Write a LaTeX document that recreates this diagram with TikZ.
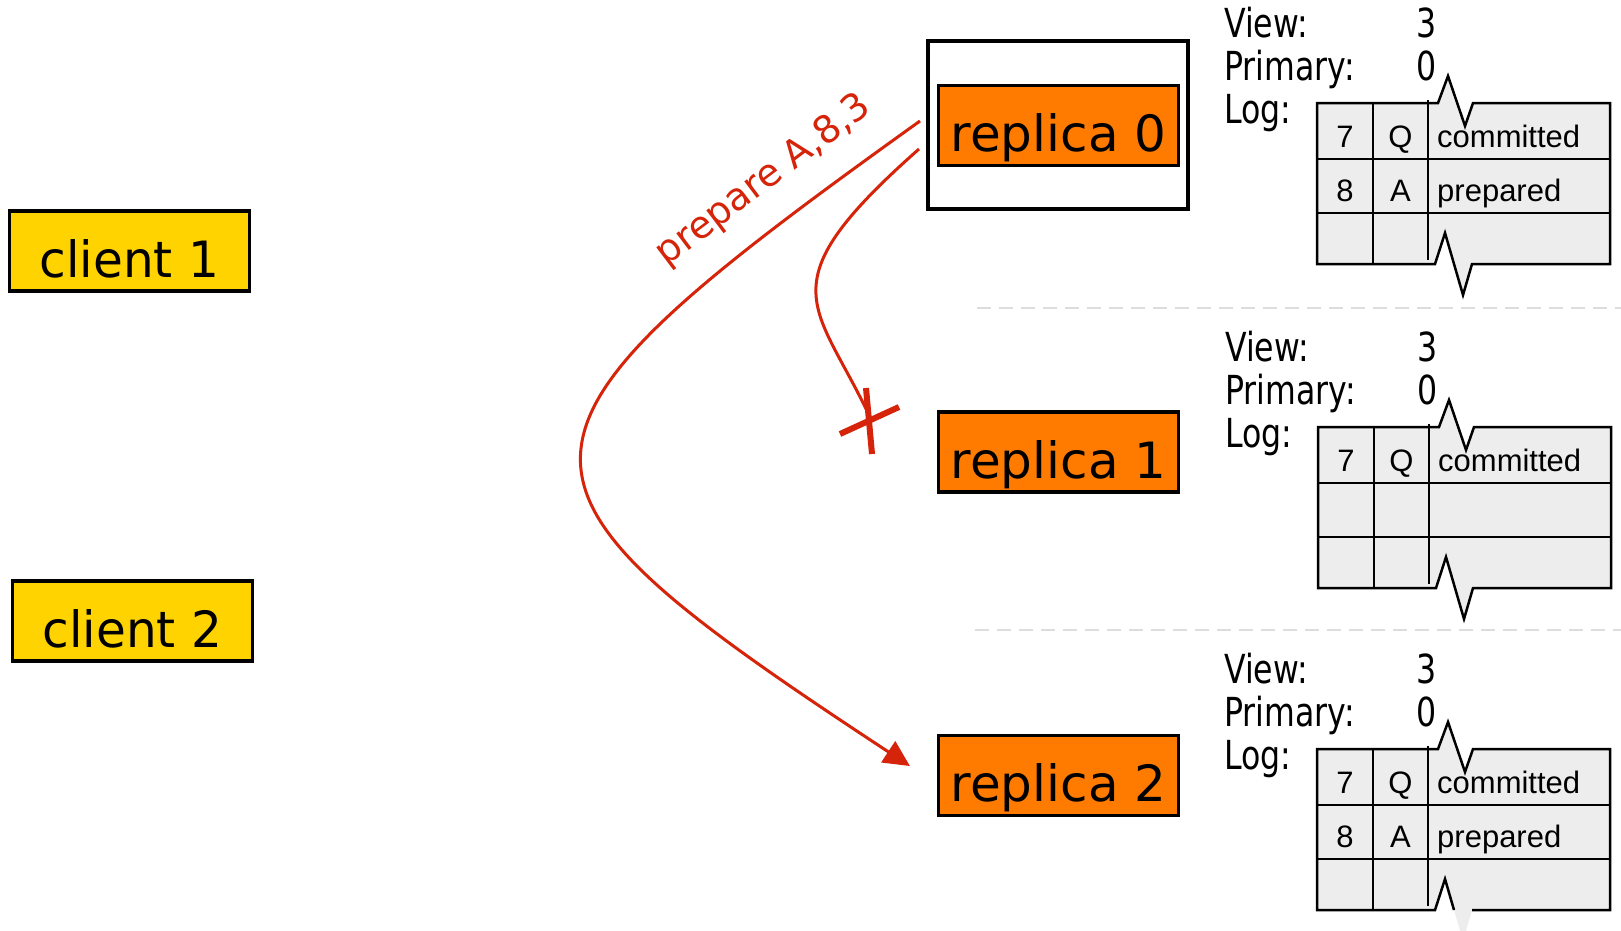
\documentclass[tikz,border=0pt]{standalone}
\usepackage{fontspec}
\usetikzlibrary{arrows.meta,calc}

\newfontfamily\boxfont{DejaVu Sans}
\newfontfamily\clientfont[FakeStretch=0.97]{DejaVu Sans}
\newfontfamily\statefont[FakeStretch=0.79]{DejaVu Sans}
\newfontfamily\cellfont{Liberation Sans}

\definecolor{clientyellow}{HTML}{FFD300}
\definecolor{replicaorange}{HTML}{FF7B00}
\definecolor{msgred}{RGB}{214,36,10}
\definecolor{cellgray}{HTML}{EDEDED}
\definecolor{sepgray}{HTML}{DDDDDD}

\tikzset{
  boxbase/.style={draw=black, line width=3.2pt, inner sep=0pt,
    minimum width=240pt, minimum height=80pt, text height=52pt, text depth=0pt},
  clientbox/.style={boxbase, fill=clientyellow, font=\clientfont\fontsize{50}{60}\selectfont},
  replicabox/.style={boxbase, fill=replicaorange, font=\boxfont\fontsize{50}{60}\selectfont},
  primarybox/.style={draw=black, line width=4pt, minimum width=260pt, minimum height=168pt, inner sep=0pt},
  msg/.style={draw=msgred, line width=3pt},
  msglabel/.style={text=msgred, font=\boxfont\fontsize{38}{45}\selectfont, inner sep=0pt},
  crossstroke/.style={draw=msgred, line width=6pt},
  statetext/.style={anchor=base west, inner sep=0pt, font=\statefont\fontsize{40}{48}\selectfont},
  celltext/.style={anchor=base, inner sep=0pt, font=\cellfont\fontsize{31}{37}\selectfont},
  cellword/.style={celltext, anchor=base west},
  gridline/.style={draw=black, line width=2.5pt, line join=miter},
  separator/.style={draw=sepgray, line width=2pt, dash pattern=on 14pt off 8pt},
}

% Replica state: view, primary and a torn three-row log.
% #1 name prefix, #2 table origin, #3-#5 first row, #6-#8 second row,
% #9 = 1 when the lower tear tip is outlined
\newcommand\logblock[9]{%
  \begin{scope}[shift={#2}]
    \fill[cellgray] (0,0) -- (121,0) -- (131,-27) -- (148,23) -- (156,0) -- (293,0)
      -- (293,161) -- (155,161) -- (146,192) -- (128,130) -- (118,161) -- (0,161) -- cycle;
    \draw[gridline] (0,56) -- (293,56) (0,110) -- (293,110)
      (56,0) -- (56,161) (111,-3) -- (111,157);
    \ifnum#9=1
      \draw[gridline] (137,161) -- (128,130) -- (118,161) -- (0,161) -- (0,0) -- (121,0)
        -- (131,-27) -- (148,23) -- (156,0) -- (293,0) -- (293,161) -- (155,161)
        -- (146,192) -- cycle;
    \else
      \draw[gridline] (137,161) -- (128,130) -- (118,161) -- (0,161) -- (0,0) -- (121,0)
        -- (131,-27) -- (148,23) -- (156,0) -- (293,0) -- (293,161) -- (155,161);
    \fi
    \node[statetext] (#1view) at (-93,-66) {View:};
    \node[statetext] (#1viewval) at (99,-66) {3};
    \node[statetext] (#1prim) at (-93,-23) {Primary:};
    \node[statetext] (#1primval) at (99,-23) {0};
    \node[statetext] (#1log) at (-93,20) {Log:};
    \node[celltext] (#1ra) at (28,44) {#3};
    \node[celltext] (#1rb) at (83.5,44) {#4};
    \node[cellword] (#1rc) at (120,44) {#5};
    \ifx\relax#6\relax\else
      \node[celltext] (#1sa) at (28,98) {#6};
      \node[celltext] (#1sb) at (83.5,98) {#7};
      \node[cellword] (#1sc) at (120,98) {#8};
    \fi
  \end{scope}%
}

\begin{document}
\begin{tikzpicture}[x=1pt,y=-1pt]
  \useasboundingbox[fill=white] (0,0) rectangle (1621,930);

  % clients
  \node[clientbox] (c1) at (129.5,251) {client 1};
  \node[clientbox] (c2) at (132.5,621) {client 2};

  % replicas, the primary one framed
  \node[primarybox] (r0frame) at (1058,125) {};
  \node[replicabox] (r0) at (1058.5,125.5) {replica 0};
  \node[replicabox] (r1) at (1058.5,452) {replica 1};
  \node[replicabox] (r2) at (1058.5,775.5) {replica 2};

  % separators between replica states
  \coordinate (sepAl) at (977,308);
  \coordinate (sepAr) at (1621,308);
  \coordinate (sepBl) at (975,630);
  \coordinate (sepBr) at (1621,630);
  \draw[separator] (sepAl) -- (sepAr);
  \draw[separator] (sepBl) -- (sepBr);

  % replica states
  \logblock{a}{(1317,103)}{7}{Q}{committed}{8}{A}{prepared}{1}
  \logblock{b}{(1318,427)}{7}{Q}{committed}{}{}{}{1}
  \logblock{c}{(1317,749)}{7}{Q}{committed}{8}{A}{prepared}{0}

  % prepare messages from the primary
  \coordinate (m1s) at ([xshift=-6pt,yshift=4pt]r0frame.west);
  \coordinate (m1e) at ([xshift=-27pt,yshift=9.5pt]r2.west);
  \coordinate (m2s) at ([xshift=-7pt,yshift=-24pt]r0frame.west);
  \coordinate (xm) at (870,420);
  \coordinate (m2e) at (868,413);

  \draw[msg, -{Triangle[length=26pt,width=25pt]}]
    (m1s) .. controls (470,443) and (475,480) .. (m1e);
  \draw[msg] (m2s) .. controls (765,285) and (815,302) .. (m2e);

  \node[msglabel, rotate=37] (lbl) at (764,181) {prepare A,8,3};

  % lost message
  \draw[crossstroke] ($(xm)+(-4,-32)$) -- ($(xm)+(2,34)$);
  \draw[crossstroke] ($(xm)+(-30,14)$) -- ($(xm)+(29,-13)$);
\end{tikzpicture}
\end{document}
